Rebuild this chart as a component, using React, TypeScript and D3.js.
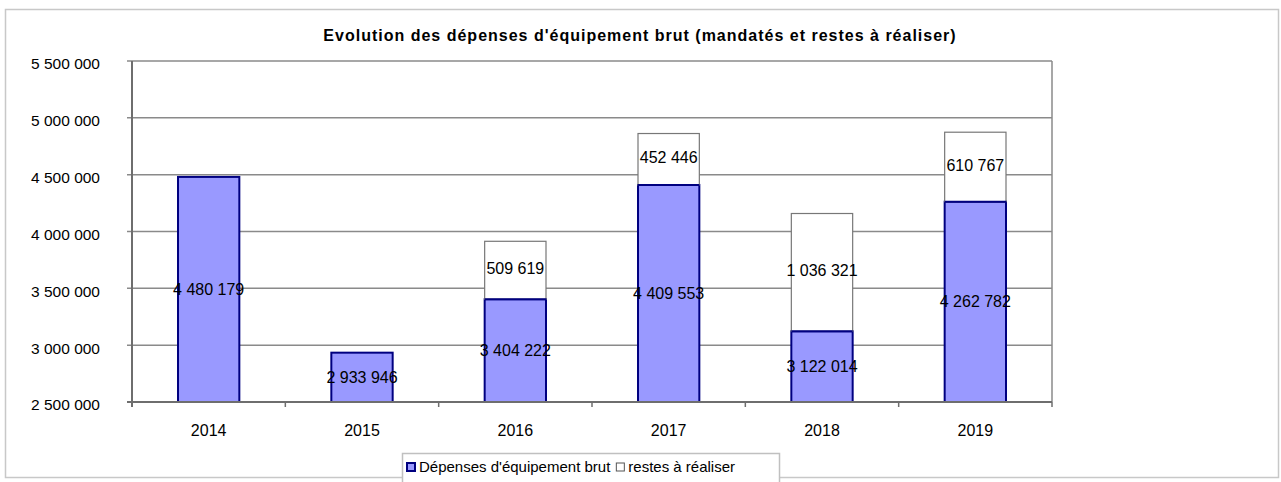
import React, { useEffect, useRef } from "react";
import * as d3 from "d3";

const years = ["2014", "2015", "2016", "2017", "2018", "2019"];
const depenses = [4480179, 2933946, 3404222, 4409553, 3122014, 4262782];
const restes = [0, 0, 509619, 452446, 1036321, 610767];
const yTicks = [2500000, 3000000, 3500000, 4000000, 4500000, 5000000, 5500000];
const title = "Evolution des dépenses d'équipement brut (mandatés et restes à réaliser)";
const legendLabels = ["Dépenses d'équipement brut", "restes à réaliser"];

export default function App() {
  const svgRef = useRef<SVGSVGElement | null>(null);
  const width = 1281;
  const height = 482;
  const plot = { left: 132, right: 1052, top: 61, bottom: 402 };
  const font = "Arial, 'Liberation Sans', sans-serif";

  useEffect(() => {
    const svg = d3.select(svgRef.current);
    svg.selectAll("*").remove();

    const fmt = (v: number) => d3.format(",")(v).replace(/,/g, " ");

    const x = d3
      .scaleBand()
      .domain(years)
      .range([plot.left, plot.right])
      .paddingInner(0.6)
      .paddingOuter(0.3);
    const y = d3.scaleLinear().domain([2500000, 5500000]).range([plot.bottom, plot.top]);

    // outer chart frame
    svg
      .append("rect")
      .attr("x", 5.5)
      .attr("y", 9.5)
      .attr("width", 1273)
      .attr("height", 468)
      .attr("fill", "#fff")
      .attr("stroke", "#c8c8c8")
      .attr("stroke-width", 1.5);

    svg
      .append("text")
      .attr("x", 640)
      .attr("y", 41)
      .attr("text-anchor", "middle")
      .attr("font-family", font)
      .attr("font-weight", "bold")
      .attr("font-size", 16)
      .attr("letter-spacing", 1)
      .attr("fill", "#000")
      .text(title);

    // gridlines + plot border
    svg
      .append("g")
      .selectAll("line")
      .data(yTicks.slice(1))
      .enter()
      .append("line")
      .attr("x1", plot.left - 5)
      .attr("x2", plot.right)
      .attr("y1", (d) => y(d))
      .attr("y2", (d) => y(d))
      .attr("stroke", "#8a8a8a")
      .attr("stroke-width", 1.5);

    svg
      .append("line")
      .attr("x1", plot.right)
      .attr("x2", plot.right)
      .attr("y1", plot.top)
      .attr("y2", plot.bottom)
      .attr("stroke", "#8a8a8a")
      .attr("stroke-width", 1.5);

    // y axis labels
    svg
      .append("g")
      .selectAll("text")
      .data(yTicks)
      .enter()
      .append("text")
      .attr("x", 100)
      .attr("y", (d) => y(d) + 3)
      .attr("dy", "0.35em")
      .attr("text-anchor", "end")
      .attr("font-family", font)
      .attr("font-size", 15.5)
      .attr("fill", "#000")
      .text((d) => fmt(d));

    // stacked bars
    const bars = svg.append("g");
    bars
      .selectAll("rect.dep")
      .data(years)
      .enter()
      .append("rect")
      .attr("class", "dep")
      .attr("x", (d) => x(d)!)
      .attr("y", (d, i) => y(depenses[i]))
      .attr("width", x.bandwidth())
      .attr("height", (d, i) => y(2500000) - y(depenses[i]))
      .attr("fill", "#9999ff")
      .attr("stroke", "#000080")
      .attr("stroke-width", 2);

    bars
      .selectAll("rect.rest")
      .data(years.filter((d, i) => restes[i] > 0))
      .enter()
      .append("rect")
      .attr("class", "rest")
      .attr("x", (d) => x(d)!)
      .attr("y", (d) => {
        const i = years.indexOf(d);
        return y(depenses[i] + restes[i]);
      })
      .attr("width", x.bandwidth())
      .attr("height", (d) => {
        const i = years.indexOf(d);
        return y(depenses[i]) - y(depenses[i] + restes[i]);
      })
      .attr("fill", "#fff")
      .attr("stroke", "#777")
      .attr("stroke-width", 1.2);

    // redraw the blue tops over the white segment borders
    bars
      .selectAll("line.top")
      .data(years.filter((d, i) => restes[i] > 0))
      .enter()
      .append("line")
      .attr("x1", (d) => x(d)!)
      .attr("x2", (d) => x(d)! + x.bandwidth())
      .attr("y1", (d) => y(depenses[years.indexOf(d)]))
      .attr("y2", (d) => y(depenses[years.indexOf(d)]))
      .attr("stroke", "#000080")
      .attr("stroke-width", 2);

    // value labels
    const labels = svg.append("g").attr("font-family", font).attr("font-size", 16).attr("fill", "#000");
    labels
      .selectAll("text.dep")
      .data(years)
      .enter()
      .append("text")
      .attr("x", (d) => x(d)! + x.bandwidth() / 2)
      .attr("y", (d, i) => (y(2500000) + y(depenses[i])) / 2)
      .attr("dy", "0.35em")
      .attr("text-anchor", "middle")
      .text((d, i) => fmt(depenses[i]));
    labels
      .selectAll("text.rest")
      .data(years.filter((d, i) => restes[i] > 0))
      .enter()
      .append("text")
      .attr("x", (d) => x(d)! + x.bandwidth() / 2)
      .attr("y", (d) => {
        const i = years.indexOf(d);
        return (y(depenses[i]) + y(depenses[i] + restes[i])) / 2 - 2;
      })
      .attr("dy", "0.35em")
      .attr("text-anchor", "middle")
      .text((d) => fmt(restes[years.indexOf(d)]));

    // axes lines
    svg
      .append("line")
      .attr("x1", plot.left)
      .attr("x2", plot.left)
      .attr("y1", plot.top)
      .attr("y2", plot.bottom + 5)
      .attr("stroke", "#6e6e6e")
      .attr("stroke-width", 2);
    svg
      .append("line")
      .attr("x1", plot.left - 5)
      .attr("x2", plot.right)
      .attr("y1", plot.bottom)
      .attr("y2", plot.bottom)
      .attr("stroke", "#6e6e6e")
      .attr("stroke-width", 2);

    const step = x.step();
    svg
      .append("g")
      .selectAll("line")
      .data(d3.range(years.length + 1))
      .enter()
      .append("line")
      .attr("x1", (i) => plot.left + i * step)
      .attr("x2", (i) => plot.left + i * step)
      .attr("y1", plot.bottom)
      .attr("y2", plot.bottom + 5)
      .attr("stroke", "#6e6e6e")
      .attr("stroke-width", 1.5);

    svg
      .append("g")
      .selectAll("text")
      .data(years)
      .enter()
      .append("text")
      .attr("x", (d) => x(d)! + x.bandwidth() / 2)
      .attr("y", 430)
      .attr("dy", "0.35em")
      .attr("text-anchor", "middle")
      .attr("font-family", font)
      .attr("font-size", 16)
      .attr("fill", "#000")
      .text((d) => d);

    // legend
    const lg = svg.append("g").attr("font-family", font).attr("font-size", 15).attr("fill", "#000");
    lg.append("rect")
      .attr("x", 402.5)
      .attr("y", 453.5)
      .attr("width", 377)
      .attr("height", 32)
      .attr("fill", "#fff")
      .attr("stroke", "#c0c0c0")
      .attr("stroke-width", 1.5);
    lg.append("rect")
      .attr("x", 407)
      .attr("y", 463)
      .attr("width", 8)
      .attr("height", 8)
      .attr("fill", "#9999ff")
      .attr("stroke", "#000080")
      .attr("stroke-width", 2);
    const t1 = lg
      .append("text")
      .attr("x", 419)
      .attr("y", 467)
      .attr("dy", "0.35em")
      .text(legendLabels[0]);
    const w1 = (t1.node() as SVGTextElement).getComputedTextLength();
    const x2 = 419 + w1 + 6;
    lg.append("rect")
      .attr("x", x2)
      .attr("y", 463)
      .attr("width", 8)
      .attr("height", 8)
      .attr("fill", "#fff")
      .attr("stroke", "#555")
      .attr("stroke-width", 1);
    lg.append("text")
      .attr("x", x2 + 12)
      .attr("y", 467)
      .attr("dy", "0.35em")
      .text(legendLabels[1]);
  });

  return (
    <div style={{ position: "absolute", left: 0, top: 0 }}>
      <svg width={width} height={height} ref={svgRef} style={{ display: "block" }}></svg>
    </div>
  );
}
